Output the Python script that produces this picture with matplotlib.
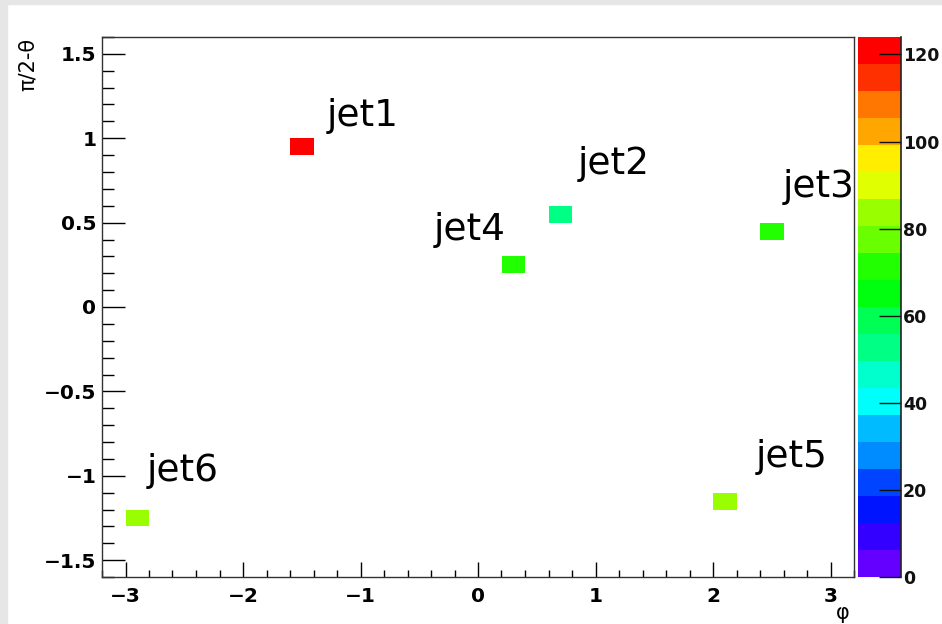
import colorsys
import numpy as np
import matplotlib
matplotlib.use("Agg")
import matplotlib.pyplot as plt
from matplotlib.colors import ListedColormap, BoundaryNorm
from matplotlib.cm import ScalarMappable
from matplotlib.patches import Rectangle
from matplotlib.ticker import MultipleLocator

# jets in (phi, pi/2-theta), bin contents (pT)
jet_names = ["jet1", "jet2", "jet3", "jet4", "jet5", "jet6"]
jet_phi = [-1.5, 0.7, 2.5, 0.3, 2.1, -2.9]
jet_eta = [0.95, 0.55, 0.45, 0.25, -1.15, -1.25]
jet_pt = [124, 53, 73, 71, 85, 84]

# label anchor points (data coords)
label_x = [-1.29, 0.85, 2.59, -0.38, 2.36, -2.82]
label_y = [1.07, 0.79, 0.65, 0.40, -0.95, -1.03]

bin_w = 0.2
bin_h = 0.1
n_levels = 20

# ROOT "pretty palette" (SetPalette(1)), 50 colours, 20 contours
colors = []
for j in range(n_levels):
    idx = int((j + 0.99) * 50 / n_levels)
    hue = 280 - (idx + 1) * 5.6
    colors.append(colorsys.hls_to_rgb(hue / 360.0, 0.5, 1.0))
cmap = ListedColormap(colors)
zmax = max(jet_pt)
levels = np.linspace(0, zmax, n_levels + 1)
norm = BoundaryNorm(levels, n_levels, clip=True)

W, H = 942, 624
fig = plt.figure(figsize=(W / 100, H / 100), dpi=100)
fig.patch.set_facecolor("white")
# screenshot grey border
fig.patches.append(Rectangle((0, 0), 7 / W, 1, transform=fig.transFigure, color="#e6e6e6", zorder=-1))
fig.patches.append(Rectangle((0, 1 - 4 / H), 1, 4 / H, transform=fig.transFigure, color="#e6e6e6", zorder=-1))

ax = fig.add_axes([102 / W, (H - 577) / H, 752 / W, 540 / H])
ax.bar(jet_phi, bin_h, width=bin_w, bottom=np.array(jet_eta) - bin_h / 2,
       color=[cmap(norm(v)) for v in jet_pt], linewidth=0)

for name, tx, ty in zip(jet_names, label_x, label_y):
    ax.text(tx, ty, name, fontsize=27, family="DejaVu Sans", clip_on=False, zorder=5)

ax.set_xlim(-3.2, 3.2)
ax.set_ylim(-1.6, 1.6)
ax.xaxis.set_major_locator(MultipleLocator(1))
ax.xaxis.set_minor_locator(MultipleLocator(0.2))
ax.yaxis.set_major_locator(MultipleLocator(0.5))
ax.yaxis.set_minor_locator(MultipleLocator(0.1))
ax.tick_params(axis="x", which="major", direction="in", length=11, width=1, pad=7)
ax.tick_params(axis="x", which="minor", direction="in", length=5, width=1)
ax.tick_params(axis="y", which="major", direction="in", length=16.5, width=1, pad=4)
ax.tick_params(axis="y", which="minor", direction="in", length=8.5, width=1)
ax.set_xticks([-3, -2, -1, 0, 1, 2, 3])
ax.set_xticklabels(["\u22123", "\u22122", "\u22121", "0", "1", "2", "3"])
ax.set_yticks([-1.5, -1, -0.5, 0, 0.5, 1, 1.5])
ax.set_yticklabels(["\u22121.5", "\u22121", "\u22120.5", "0", "0.5", "1", "1.5"])
for lab in ax.get_xticklabels() + ax.get_yticklabels():
    lab.set_fontfamily("DejaVu Sans")
    lab.set_fontweight("bold")
    lab.set_fontsize(14.5)
for sp in ax.spines.values():
    sp.set_linewidth(1)
    sp.set_color("#333333")

cax = fig.add_axes([858 / W, (H - 577) / H, 43 / W, 540 / H])
cb = fig.colorbar(ScalarMappable(norm=norm, cmap=cmap), cax=cax, ticks=[0, 20, 40, 60, 80, 100, 120])
cb.outline.set_visible(False)
cax.plot([1, 1], [0, 1], transform=cax.transAxes, color="#222222", linewidth=1.2, clip_on=False)
cax.tick_params(axis="y", which="major", direction="in", length=16, width=1, pad=1.5, colors="#111111")
cax.minorticks_off()
for lab in cax.get_yticklabels():
    lab.set_fontfamily("DejaVu Sans")
    lab.set_fontweight("bold")
    lab.set_fontsize(12.5)

fig.text(28 / W, (H - 38) / H, "\u03c0/2-\u03b8", rotation=90, ha="center", va="top",
         fontsize=15, family="DejaVu Sans")
fig.text(843 / W, 1 / H, "\u03c6", ha="center", va="bottom", fontsize=15, family="DejaVu Sans")

fig.savefig("out.png", dpi=100)
